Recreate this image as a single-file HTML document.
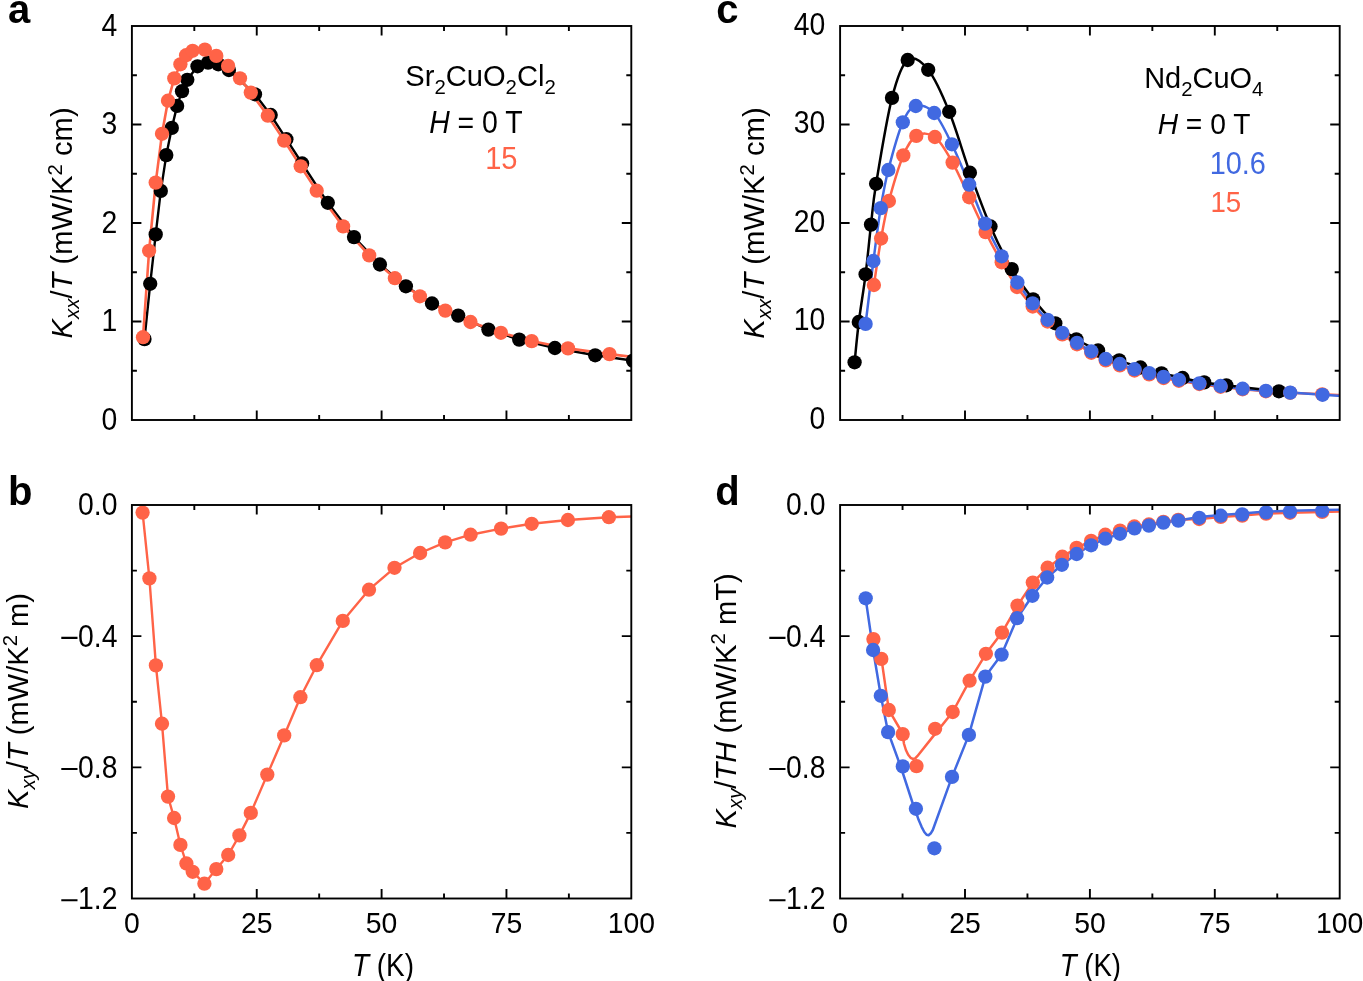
<!DOCTYPE html>
<html><head><meta charset="utf-8"><title>Thermal Hall figure</title>
<style>
html,body{margin:0;padding:0;background:#fff;width:1363px;height:981px;overflow:hidden}
svg{display:block;font-family:"Liberation Sans",sans-serif;will-change:transform}
</style></head>
<body>
<svg width="1363" height="981" viewBox="0 0 1363 981">
<rect width="1363" height="981" fill="#fff"/>
<clipPath id="clipa"><rect x="131.90" y="26.00" width="499.40" height="394.00"/></clipPath>
<clipPath id="clipb"><rect x="131.90" y="505.00" width="499.40" height="393.50"/></clipPath>
<clipPath id="clipc"><rect x="840.10" y="26.00" width="499.60" height="394.00"/></clipPath>
<clipPath id="clipd"><rect x="840.10" y="505.00" width="499.60" height="393.50"/></clipPath>
<g clip-path="url(#clipa)">
<path d="M144.50,339.10 L150.20,283.80 L155.70,234.40 L160.80,190.90 L166.30,155.10 L171.80,127.90 L177.10,105.90 L182.00,91.20 L187.30,79.80 L197.50,66.30 L208.10,62.60 L218.30,64.30 L228.90,70.00 L255.00,94.30 L270.70,115.00 L286.40,139.20 L302.10,163.50 L327.80,202.80 L354.00,237.10 L379.90,264.50 L405.90,286.30 L432.00,303.50 L458.20,315.60 L488.40,329.60 L519.20,339.60 L554.90,348.00 L595.20,355.30 L633.00,360.60" fill="none" stroke="#000000" stroke-width="2.40" stroke-linejoin="round"/>
<path d="M143.00,337.20 L149.10,250.80 L155.70,182.60 L162.00,133.80 L168.00,100.70 L174.30,78.40 L180.40,64.30 L186.10,55.20 L192.60,50.80 L204.90,49.60 L216.30,55.90 L228.10,65.90 L240.00,78.30 L250.80,92.60 L267.80,115.70 L284.20,140.60 L300.70,166.30 L316.70,190.70 L343.10,226.40 L369.20,255.40 L394.90,278.20 L419.90,296.30 L445.30,310.60 L470.50,322.00 L500.90,332.80 L531.70,341.10 L568.00,348.40 L609.50,354.10 L650.00,359.00" fill="none" stroke="#ff6347" stroke-width="2.60" stroke-linejoin="round"/>
<g fill="#000000"><circle cx="144.50" cy="339.10" r="7.15"/><circle cx="150.20" cy="283.80" r="7.15"/><circle cx="155.70" cy="234.40" r="7.15"/><circle cx="160.80" cy="190.90" r="7.15"/><circle cx="166.30" cy="155.10" r="7.15"/><circle cx="171.80" cy="127.90" r="7.15"/><circle cx="177.10" cy="105.90" r="7.15"/><circle cx="182.00" cy="91.20" r="7.15"/><circle cx="187.30" cy="79.80" r="7.15"/><circle cx="197.50" cy="66.30" r="7.15"/><circle cx="208.10" cy="62.60" r="7.15"/><circle cx="218.30" cy="64.30" r="7.15"/><circle cx="228.90" cy="70.00" r="7.15"/><circle cx="255.00" cy="94.30" r="7.15"/><circle cx="270.70" cy="115.00" r="7.15"/><circle cx="286.40" cy="139.20" r="7.15"/><circle cx="302.10" cy="163.50" r="7.15"/><circle cx="327.80" cy="202.80" r="7.15"/><circle cx="354.00" cy="237.10" r="7.15"/><circle cx="379.90" cy="264.50" r="7.15"/><circle cx="405.90" cy="286.30" r="7.15"/><circle cx="432.00" cy="303.50" r="7.15"/><circle cx="458.20" cy="315.60" r="7.15"/><circle cx="488.40" cy="329.60" r="7.15"/><circle cx="519.20" cy="339.60" r="7.15"/><circle cx="554.90" cy="348.00" r="7.15"/><circle cx="595.20" cy="355.30" r="7.15"/><circle cx="633.00" cy="360.60" r="7.15"/></g>
<g fill="#ff6347"><circle cx="143.00" cy="337.20" r="7.15"/><circle cx="149.10" cy="250.80" r="7.15"/><circle cx="155.70" cy="182.60" r="7.15"/><circle cx="162.00" cy="133.80" r="7.15"/><circle cx="168.00" cy="100.70" r="7.15"/><circle cx="174.30" cy="78.40" r="7.15"/><circle cx="180.40" cy="64.30" r="7.15"/><circle cx="186.10" cy="55.20" r="7.15"/><circle cx="192.60" cy="50.80" r="7.15"/><circle cx="204.90" cy="49.60" r="7.15"/><circle cx="216.30" cy="55.90" r="7.15"/><circle cx="228.10" cy="65.90" r="7.15"/><circle cx="240.00" cy="78.30" r="7.15"/><circle cx="250.80" cy="92.60" r="7.15"/><circle cx="267.80" cy="115.70" r="7.15"/><circle cx="284.20" cy="140.60" r="7.15"/><circle cx="300.70" cy="166.30" r="7.15"/><circle cx="316.70" cy="190.70" r="7.15"/><circle cx="343.10" cy="226.40" r="7.15"/><circle cx="369.20" cy="255.40" r="7.15"/><circle cx="394.90" cy="278.20" r="7.15"/><circle cx="419.90" cy="296.30" r="7.15"/><circle cx="445.30" cy="310.60" r="7.15"/><circle cx="470.50" cy="322.00" r="7.15"/><circle cx="500.90" cy="332.80" r="7.15"/><circle cx="531.70" cy="341.10" r="7.15"/><circle cx="568.00" cy="348.40" r="7.15"/><circle cx="609.50" cy="354.10" r="7.15"/><circle cx="650.00" cy="359.00" r="7.15"/></g>
</g>
<rect x="131.90" y="26.00" width="499.40" height="394.00" fill="none" stroke="#000" stroke-width="1.9"/>
<path d="M256.75,420.00V410.50 M256.75,26.00V35.50 M381.60,420.00V410.50 M381.60,26.00V35.50 M506.45,420.00V410.50 M506.45,26.00V35.50 M194.32,420.00V415.00 M194.32,26.00V31.00 M319.18,420.00V415.00 M319.18,26.00V31.00 M444.02,420.00V415.00 M444.02,26.00V31.00 M568.88,420.00V415.00 M568.88,26.00V31.00 M131.90,321.50H141.40 M631.30,321.50H621.80 M131.90,223.00H141.40 M631.30,223.00H621.80 M131.90,124.50H141.40 M631.30,124.50H621.80 M131.90,370.75H136.90 M631.30,370.75H626.30 M131.90,272.25H136.90 M631.30,272.25H626.30 M131.90,173.75H136.90 M631.30,173.75H626.30 M131.90,75.25H136.90 M631.30,75.25H626.30" stroke="#000" stroke-width="1.9" fill="none"/>
<g clip-path="url(#clipb)">
<path d="M142.60,512.60 L149.40,578.40 L155.90,665.40 L162.00,723.70 L168.00,796.60 L174.10,818.00 L180.40,844.90 L186.40,863.50 L192.70,871.80 L204.40,883.70 L216.30,869.10 L228.20,855.00 L239.40,835.40 L250.80,812.90 L267.30,774.60 L284.20,735.40 L300.40,697.20 L316.80,665.20 L342.80,620.90 L369.00,589.70 L394.50,567.80 L420.10,553.00 L445.20,542.40 L470.60,534.70 L501.10,528.60 L531.70,523.80 L567.90,520.00 L608.90,517.20 L650.00,516.00" fill="none" stroke="#ff6347" stroke-width="2.40" stroke-linejoin="round"/>
<g fill="#ff6347"><circle cx="142.60" cy="512.60" r="7.15"/><circle cx="149.40" cy="578.40" r="7.15"/><circle cx="155.90" cy="665.40" r="7.15"/><circle cx="162.00" cy="723.70" r="7.15"/><circle cx="168.00" cy="796.60" r="7.15"/><circle cx="174.10" cy="818.00" r="7.15"/><circle cx="180.40" cy="844.90" r="7.15"/><circle cx="186.40" cy="863.50" r="7.15"/><circle cx="192.70" cy="871.80" r="7.15"/><circle cx="204.40" cy="883.70" r="7.15"/><circle cx="216.30" cy="869.10" r="7.15"/><circle cx="228.20" cy="855.00" r="7.15"/><circle cx="239.40" cy="835.40" r="7.15"/><circle cx="250.80" cy="812.90" r="7.15"/><circle cx="267.30" cy="774.60" r="7.15"/><circle cx="284.20" cy="735.40" r="7.15"/><circle cx="300.40" cy="697.20" r="7.15"/><circle cx="316.80" cy="665.20" r="7.15"/><circle cx="342.80" cy="620.90" r="7.15"/><circle cx="369.00" cy="589.70" r="7.15"/><circle cx="394.50" cy="567.80" r="7.15"/><circle cx="420.10" cy="553.00" r="7.15"/><circle cx="445.20" cy="542.40" r="7.15"/><circle cx="470.60" cy="534.70" r="7.15"/><circle cx="501.10" cy="528.60" r="7.15"/><circle cx="531.70" cy="523.80" r="7.15"/><circle cx="567.90" cy="520.00" r="7.15"/><circle cx="608.90" cy="517.20" r="7.15"/><circle cx="650.00" cy="516.00" r="7.15"/></g>
</g>
<rect x="131.90" y="505.00" width="499.40" height="393.50" fill="none" stroke="#000" stroke-width="1.9"/>
<path d="M256.75,898.50V889.00 M256.75,505.00V514.50 M381.60,898.50V889.00 M381.60,505.00V514.50 M506.45,898.50V889.00 M506.45,505.00V514.50 M194.32,898.50V893.50 M194.32,505.00V510.00 M319.18,898.50V893.50 M319.18,505.00V510.00 M444.02,898.50V893.50 M444.02,505.00V510.00 M568.88,898.50V893.50 M568.88,505.00V510.00 M131.90,767.33H141.40 M631.30,767.33H621.80 M131.90,636.17H141.40 M631.30,636.17H621.80 M131.90,832.92H136.90 M631.30,832.92H626.30 M131.90,701.75H136.90 M631.30,701.75H626.30 M131.90,570.58H136.90 M631.30,570.58H626.30" stroke="#000" stroke-width="1.9" fill="none"/>
<g clip-path="url(#clipc)">
<path d="M873.90,285.00 C875.10,277.25 878.60,252.50 881.10,238.50 C883.60,224.50 885.20,214.85 888.90,201.00 C892.60,187.15 898.73,166.25 903.30,155.40 C907.87,144.55 911.03,138.97 916.30,135.90 C921.57,132.83 928.85,132.55 934.90,137.00 C940.95,141.45 946.88,152.55 952.60,162.60 C958.32,172.65 963.70,185.72 969.20,197.30 C974.70,208.88 980.18,221.27 985.60,232.10 C991.02,242.93 996.47,253.15 1001.70,262.30 C1006.93,271.45 1011.83,279.63 1017.00,287.00 C1022.17,294.37 1027.60,300.75 1032.70,306.50 C1037.80,312.25 1042.67,316.85 1047.60,321.50 C1052.53,326.15 1057.40,330.60 1062.30,334.40 C1067.20,338.20 1072.17,341.23 1077.00,344.30 C1081.83,347.37 1086.52,350.12 1091.30,352.80 C1096.08,355.48 1100.95,358.30 1105.70,360.40 C1110.45,362.50 1115.00,363.72 1119.80,365.40 C1124.60,367.08 1129.60,369.00 1134.50,370.50 C1139.40,372.00 1144.35,373.15 1149.20,374.40 C1154.05,375.65 1158.65,376.93 1163.60,378.00 C1168.55,379.07 1172.93,379.80 1178.90,380.80 C1184.87,381.80 1192.45,383.00 1199.40,384.00 C1206.35,385.00 1213.40,385.92 1220.60,386.80 C1227.80,387.68 1235.05,388.55 1242.60,389.30 C1250.15,390.05 1257.97,390.72 1265.90,391.30 C1273.83,391.88 1280.82,392.30 1290.20,392.80 C1299.58,393.30 1310.57,393.77 1322.20,394.30 C1333.83,394.83 1353.70,395.72 1360.00,396.00" fill="none" stroke="#ff6347" stroke-width="2.50" stroke-linejoin="round"/>
<path d="M865.60,323.90 C866.90,313.42 870.88,280.30 873.40,261.00 C875.92,241.70 878.22,223.27 880.70,208.10 C883.18,192.93 884.62,184.30 888.30,170.00 C891.98,155.70 898.22,132.97 902.80,122.30 C907.38,111.63 910.57,107.55 915.80,106.00 C921.03,104.45 928.18,106.62 934.20,113.00 C940.22,119.38 946.07,132.37 951.90,144.30 C957.73,156.23 963.67,171.38 969.20,184.60 C974.73,197.82 979.68,211.65 985.10,223.60 C990.52,235.55 996.32,246.48 1001.70,256.30 C1007.08,266.12 1012.23,274.67 1017.40,282.50 C1022.57,290.33 1027.67,297.08 1032.70,303.30 C1037.73,309.52 1042.67,314.88 1047.60,319.80 C1052.53,324.72 1057.40,328.97 1062.30,332.80 C1067.20,336.63 1072.17,339.72 1077.00,342.80 C1081.83,345.88 1086.52,348.60 1091.30,351.30 C1096.08,354.00 1100.95,356.88 1105.70,359.00 C1110.45,361.12 1115.00,362.30 1119.80,364.00 C1124.60,365.70 1129.60,367.68 1134.50,369.20 C1139.40,370.72 1144.35,371.82 1149.20,373.10 C1154.05,374.38 1158.65,375.78 1163.60,376.90 C1168.55,378.02 1172.93,378.73 1178.90,379.80 C1184.87,380.87 1192.45,382.27 1199.40,383.30 C1206.35,384.33 1213.40,385.10 1220.60,386.00 C1227.80,386.90 1235.05,387.90 1242.60,388.70 C1250.15,389.50 1257.97,390.15 1265.90,390.80 C1273.83,391.45 1280.75,391.93 1290.20,392.60 C1299.65,393.27 1310.97,394.07 1322.60,394.80 C1334.23,395.53 1353.77,396.63 1360.00,397.00" fill="none" stroke="#4169e1" stroke-width="2.50" stroke-linejoin="round"/>
<path d="M854.60,362.30 C855.30,355.58 856.97,336.67 858.80,322.00 C860.63,307.33 863.57,290.53 865.60,274.30 C867.63,258.07 869.25,239.68 871.00,224.60 C872.75,209.52 872.60,204.92 876.10,183.80 C879.60,162.68 886.73,118.53 892.00,97.90 C897.27,77.27 901.67,64.68 907.70,60.00 C913.73,55.32 921.28,61.17 928.20,69.80 C935.12,78.43 942.25,94.65 949.20,111.80 C956.15,128.95 963.02,153.58 969.90,172.70 C976.78,191.82 983.52,210.43 990.50,226.50 C997.48,242.57 1004.70,256.97 1011.80,269.10 C1018.90,281.23 1025.85,290.27 1033.10,299.30 C1040.35,308.33 1048.08,316.63 1055.30,323.30 C1062.52,329.97 1069.27,334.77 1076.40,339.30 C1083.53,343.83 1090.97,346.98 1098.10,350.50 C1105.23,354.02 1112.15,357.57 1119.20,360.40 C1126.25,363.23 1133.35,365.35 1140.40,367.50 C1147.45,369.65 1154.47,371.55 1161.50,373.30 C1168.53,375.05 1175.48,376.48 1182.60,378.00 C1189.72,379.52 1196.92,381.18 1204.20,382.40 C1211.48,383.62 1213.85,383.82 1226.30,385.30 C1238.75,386.78 1270.13,390.30 1278.90,391.30" fill="none" stroke="#000000" stroke-width="2.50" stroke-linejoin="round"/>
<g fill="#000000"><circle cx="854.60" cy="362.30" r="7.15"/><circle cx="858.80" cy="322.00" r="7.15"/><circle cx="865.60" cy="274.30" r="7.15"/><circle cx="871.00" cy="224.60" r="7.15"/><circle cx="876.10" cy="183.80" r="7.15"/><circle cx="892.00" cy="97.90" r="7.15"/><circle cx="907.70" cy="60.00" r="7.15"/><circle cx="928.20" cy="69.80" r="7.15"/><circle cx="949.20" cy="111.80" r="7.15"/><circle cx="969.90" cy="172.70" r="7.15"/><circle cx="990.50" cy="226.50" r="7.15"/><circle cx="1011.80" cy="269.10" r="7.15"/><circle cx="1033.10" cy="299.30" r="7.15"/><circle cx="1055.30" cy="323.30" r="7.15"/><circle cx="1076.40" cy="339.30" r="7.15"/><circle cx="1098.10" cy="350.50" r="7.15"/><circle cx="1119.20" cy="360.40" r="7.15"/><circle cx="1140.40" cy="367.50" r="7.15"/><circle cx="1161.50" cy="373.30" r="7.15"/><circle cx="1182.60" cy="378.00" r="7.15"/><circle cx="1204.20" cy="382.40" r="7.15"/><circle cx="1226.30" cy="385.30" r="7.15"/><circle cx="1278.90" cy="391.30" r="7.15"/></g>
<g fill="#ff6347"><circle cx="873.90" cy="285.00" r="7.15"/><circle cx="881.10" cy="238.50" r="7.15"/><circle cx="888.90" cy="201.00" r="7.15"/><circle cx="903.30" cy="155.40" r="7.15"/><circle cx="916.30" cy="135.90" r="7.15"/><circle cx="934.90" cy="137.00" r="7.15"/><circle cx="952.60" cy="162.60" r="7.15"/><circle cx="969.20" cy="197.30" r="7.15"/><circle cx="985.60" cy="232.10" r="7.15"/><circle cx="1001.70" cy="262.30" r="7.15"/><circle cx="1017.00" cy="287.00" r="7.15"/><circle cx="1032.70" cy="306.50" r="7.15"/><circle cx="1047.60" cy="321.50" r="7.15"/><circle cx="1062.30" cy="334.40" r="7.15"/><circle cx="1077.00" cy="344.30" r="7.15"/><circle cx="1091.30" cy="352.80" r="7.15"/><circle cx="1105.70" cy="360.40" r="7.15"/><circle cx="1119.80" cy="365.40" r="7.15"/><circle cx="1134.50" cy="370.50" r="7.15"/><circle cx="1149.20" cy="374.40" r="7.15"/><circle cx="1163.60" cy="378.00" r="7.15"/><circle cx="1178.90" cy="380.80" r="7.15"/><circle cx="1199.40" cy="384.00" r="7.15"/><circle cx="1220.60" cy="386.80" r="7.15"/><circle cx="1242.60" cy="389.30" r="7.15"/><circle cx="1265.90" cy="391.30" r="7.15"/><circle cx="1290.20" cy="392.80" r="7.15"/><circle cx="1322.20" cy="394.30" r="7.15"/><circle cx="1360.00" cy="396.00" r="7.15"/></g>
<g fill="#4169e1"><circle cx="865.60" cy="323.90" r="7.15"/><circle cx="873.40" cy="261.00" r="7.15"/><circle cx="880.70" cy="208.10" r="7.15"/><circle cx="888.30" cy="170.00" r="7.15"/><circle cx="902.80" cy="122.30" r="7.15"/><circle cx="915.80" cy="106.00" r="7.15"/><circle cx="934.20" cy="113.00" r="7.15"/><circle cx="951.90" cy="144.30" r="7.15"/><circle cx="969.20" cy="184.60" r="7.15"/><circle cx="985.10" cy="223.60" r="7.15"/><circle cx="1001.70" cy="256.30" r="7.15"/><circle cx="1017.40" cy="282.50" r="7.15"/><circle cx="1032.70" cy="303.30" r="7.15"/><circle cx="1047.60" cy="319.80" r="7.15"/><circle cx="1062.30" cy="332.80" r="7.15"/><circle cx="1077.00" cy="342.80" r="7.15"/><circle cx="1091.30" cy="351.30" r="7.15"/><circle cx="1105.70" cy="359.00" r="7.15"/><circle cx="1119.80" cy="364.00" r="7.15"/><circle cx="1134.50" cy="369.20" r="7.15"/><circle cx="1149.20" cy="373.10" r="7.15"/><circle cx="1163.60" cy="376.90" r="7.15"/><circle cx="1178.90" cy="379.80" r="7.15"/><circle cx="1199.40" cy="383.30" r="7.15"/><circle cx="1220.60" cy="386.00" r="7.15"/><circle cx="1242.60" cy="388.70" r="7.15"/><circle cx="1265.90" cy="390.80" r="7.15"/><circle cx="1290.20" cy="392.60" r="7.15"/><circle cx="1322.60" cy="394.80" r="7.15"/><circle cx="1360.00" cy="397.00" r="7.15"/></g>
</g>
<rect x="840.10" y="26.00" width="499.60" height="394.00" fill="none" stroke="#000" stroke-width="1.9"/>
<path d="M965.00,420.00V410.50 M965.00,26.00V35.50 M1089.90,420.00V410.50 M1089.90,26.00V35.50 M1214.80,420.00V410.50 M1214.80,26.00V35.50 M902.55,420.00V415.00 M902.55,26.00V31.00 M1027.45,420.00V415.00 M1027.45,26.00V31.00 M1152.35,420.00V415.00 M1152.35,26.00V31.00 M1277.25,420.00V415.00 M1277.25,26.00V31.00 M840.10,321.50H849.60 M1339.70,321.50H1330.20 M840.10,223.00H849.60 M1339.70,223.00H1330.20 M840.10,124.50H849.60 M1339.70,124.50H1330.20 M840.10,370.75H845.10 M1339.70,370.75H1334.70 M840.10,272.25H845.10 M1339.70,272.25H1334.70 M840.10,173.75H845.10 M1339.70,173.75H1334.70 M840.10,75.25H845.10 M1339.70,75.25H1334.70" stroke="#000" stroke-width="1.9" fill="none"/>
<g clip-path="url(#clipd)">
<path d="M873.60,638.90 L881.40,658.40 L888.80,709.90 L902.90,734.00 L903.90,743.50 L905.90,750.00 L908.20,754.80 L910.60,757.80 L912.90,758.90 L915.20,758.40 L917.30,756.20 L934.70,734.40 L952.70,712.00 L969.60,680.70 L985.90,653.80 L1002.00,632.60 L1017.50,605.60 L1032.80,582.60 L1047.60,567.70 L1062.30,556.70 L1076.60,547.90 L1091.10,540.80 L1105.30,534.70 L1120.00,530.60 L1134.30,526.50 L1148.90,524.50 L1163.40,521.80 L1178.30,519.80 L1199.20,519.00 L1220.70,516.90 L1242.20,515.60 L1266.10,513.60 L1290.00,512.80 L1322.20,511.90 L1360.00,511.20" fill="none" stroke="#ff6347" stroke-width="2.50" stroke-linejoin="round"/>
<path d="M865.60,598.20 L873.10,649.80 L880.80,695.80 L888.00,731.70 L901.20,768.00 L912.60,803.00 L915.60,811.00 L918.60,819.80 L921.60,826.80 L924.30,832.00 L926.60,834.80 L928.60,835.20 L930.60,833.60 L932.80,830.00 L952.00,776.90 L968.90,734.90 L985.30,676.60 L1001.60,654.60 L1017.10,618.20 L1032.40,595.80 L1047.20,577.50 L1061.90,564.80 L1076.60,554.00 L1091.10,545.30 L1105.30,538.70 L1120.00,533.80 L1134.50,528.40 L1148.90,525.60 L1163.40,522.60 L1178.30,520.60 L1199.20,517.00 L1220.70,514.90 L1242.20,513.60 L1266.10,511.60 L1290.00,510.80 L1322.20,509.90 L1360.00,509.60" fill="none" stroke="#4169e1" stroke-width="2.50" stroke-linejoin="round"/>
<g fill="#ff6347"><circle cx="873.40" cy="639.10" r="7.15"/><circle cx="881.30" cy="658.90" r="7.15"/><circle cx="888.80" cy="710.00" r="7.15"/><circle cx="902.70" cy="734.10" r="7.15"/><circle cx="916.50" cy="766.10" r="7.15"/><circle cx="935.10" cy="728.80" r="7.15"/><circle cx="952.70" cy="712.00" r="7.15"/><circle cx="969.60" cy="680.70" r="7.15"/><circle cx="985.90" cy="653.80" r="7.15"/><circle cx="1002.00" cy="632.60" r="7.15"/><circle cx="1017.50" cy="605.60" r="7.15"/><circle cx="1032.80" cy="582.60" r="7.15"/><circle cx="1047.60" cy="567.70" r="7.15"/><circle cx="1062.30" cy="556.70" r="7.15"/><circle cx="1076.60" cy="547.90" r="7.15"/><circle cx="1091.10" cy="540.80" r="7.15"/><circle cx="1105.30" cy="534.70" r="7.15"/><circle cx="1120.00" cy="530.60" r="7.15"/><circle cx="1134.30" cy="526.50" r="7.15"/><circle cx="1148.90" cy="524.50" r="7.15"/><circle cx="1163.40" cy="521.80" r="7.15"/><circle cx="1178.30" cy="519.80" r="7.15"/><circle cx="1199.20" cy="519.00" r="7.15"/><circle cx="1220.70" cy="516.90" r="7.15"/><circle cx="1242.20" cy="515.60" r="7.15"/><circle cx="1266.10" cy="513.60" r="7.15"/><circle cx="1290.00" cy="512.80" r="7.15"/><circle cx="1322.20" cy="511.90" r="7.15"/></g>
<g fill="#4169e1"><circle cx="865.70" cy="598.30" r="7.15"/><circle cx="873.10" cy="650.00" r="7.15"/><circle cx="880.80" cy="695.80" r="7.15"/><circle cx="888.10" cy="732.10" r="7.15"/><circle cx="902.80" cy="766.40" r="7.15"/><circle cx="915.90" cy="808.80" r="7.15"/><circle cx="934.40" cy="848.30" r="7.15"/><circle cx="952.00" cy="776.90" r="7.15"/><circle cx="968.90" cy="734.90" r="7.15"/><circle cx="985.30" cy="676.60" r="7.15"/><circle cx="1001.60" cy="654.60" r="7.15"/><circle cx="1017.10" cy="618.20" r="7.15"/><circle cx="1032.40" cy="595.80" r="7.15"/><circle cx="1047.20" cy="577.50" r="7.15"/><circle cx="1061.90" cy="564.80" r="7.15"/><circle cx="1076.60" cy="554.00" r="7.15"/><circle cx="1091.10" cy="545.30" r="7.15"/><circle cx="1105.30" cy="538.70" r="7.15"/><circle cx="1120.00" cy="533.80" r="7.15"/><circle cx="1134.50" cy="528.40" r="7.15"/><circle cx="1148.90" cy="525.60" r="7.15"/><circle cx="1163.40" cy="522.60" r="7.15"/><circle cx="1178.30" cy="520.60" r="7.15"/><circle cx="1199.20" cy="517.80" r="7.15"/><circle cx="1220.70" cy="515.70" r="7.15"/><circle cx="1242.20" cy="514.40" r="7.15"/><circle cx="1266.10" cy="512.40" r="7.15"/><circle cx="1290.00" cy="511.60" r="7.15"/><circle cx="1322.20" cy="510.70" r="7.15"/></g>
</g>
<rect x="840.10" y="505.00" width="499.60" height="393.50" fill="none" stroke="#000" stroke-width="1.9"/>
<path d="M965.00,898.50V889.00 M965.00,505.00V514.50 M1089.90,898.50V889.00 M1089.90,505.00V514.50 M1214.80,898.50V889.00 M1214.80,505.00V514.50 M902.55,898.50V893.50 M902.55,505.00V510.00 M1027.45,898.50V893.50 M1027.45,505.00V510.00 M1152.35,898.50V893.50 M1152.35,505.00V510.00 M1277.25,898.50V893.50 M1277.25,505.00V510.00 M840.10,767.33H849.60 M1339.70,767.33H1330.20 M840.10,636.17H849.60 M1339.70,636.17H1330.20 M840.10,832.92H845.10 M1339.70,832.92H1334.70 M840.10,701.75H845.10 M1339.70,701.75H1334.70 M840.10,570.58H845.10 M1339.70,570.58H1334.70" stroke="#000" stroke-width="1.9" fill="none"/>
<text transform="translate(117.30,429.90) scale(0.9450,1.0200)" text-anchor="end" fill="#000" font-size="30">0</text>
<text transform="translate(117.30,331.40) scale(0.9450,1.0200)" text-anchor="end" fill="#000" font-size="30">1</text>
<text transform="translate(117.30,232.90) scale(0.9450,1.0200)" text-anchor="end" fill="#000" font-size="30">2</text>
<text transform="translate(117.30,134.40) scale(0.9450,1.0200)" text-anchor="end" fill="#000" font-size="30">3</text>
<text transform="translate(117.30,35.90) scale(0.9450,1.0200)" text-anchor="end" fill="#000" font-size="30">4</text>
<text transform="translate(117.50,908.90) scale(0.9450,1.0200)" text-anchor="end" fill="#000" font-size="30">1.2</text>
<text transform="translate(117.50,777.73) scale(0.9450,1.0200)" text-anchor="end" fill="#000" font-size="30">0.8</text>
<text transform="translate(117.50,646.57) scale(0.9450,1.0200)" text-anchor="end" fill="#000" font-size="30">0.4</text>
<text transform="translate(117.50,515.40) scale(0.9450,1.0200)" text-anchor="end" fill="#000" font-size="30">0.0</text>
<text transform="translate(825.30,428.70) scale(0.9450,1.0200)" text-anchor="end" fill="#000" font-size="30">0</text>
<text transform="translate(825.30,330.20) scale(0.9450,1.0200)" text-anchor="end" fill="#000" font-size="30">10</text>
<text transform="translate(825.30,231.70) scale(0.9450,1.0200)" text-anchor="end" fill="#000" font-size="30">20</text>
<text transform="translate(825.30,133.20) scale(0.9450,1.0200)" text-anchor="end" fill="#000" font-size="30">30</text>
<text transform="translate(825.30,34.70) scale(0.9450,1.0200)" text-anchor="end" fill="#000" font-size="30">40</text>
<text transform="translate(825.50,908.90) scale(0.9450,1.0200)" text-anchor="end" fill="#000" font-size="30">1.2</text>
<text transform="translate(825.50,777.73) scale(0.9450,1.0200)" text-anchor="end" fill="#000" font-size="30">0.8</text>
<text transform="translate(825.50,646.57) scale(0.9450,1.0200)" text-anchor="end" fill="#000" font-size="30">0.4</text>
<text transform="translate(825.50,515.40) scale(0.9450,1.0200)" text-anchor="end" fill="#000" font-size="30">0.0</text>
<text transform="translate(131.90,933.30) scale(0.9450,1.0100)" text-anchor="middle" fill="#000" font-size="30">0</text>
<text transform="translate(256.75,933.30) scale(0.9450,1.0100)" text-anchor="middle" fill="#000" font-size="30">25</text>
<text transform="translate(381.60,933.30) scale(0.9450,1.0100)" text-anchor="middle" fill="#000" font-size="30">50</text>
<text transform="translate(506.45,933.30) scale(0.9450,1.0100)" text-anchor="middle" fill="#000" font-size="30">75</text>
<text transform="translate(631.30,933.30) scale(0.9450,1.0100)" text-anchor="middle" fill="#000" font-size="30">100</text>
<text transform="translate(840.10,933.30) scale(0.9450,1.0100)" text-anchor="middle" fill="#000" font-size="30">0</text>
<text transform="translate(965.00,933.30) scale(0.9450,1.0100)" text-anchor="middle" fill="#000" font-size="30">25</text>
<text transform="translate(1089.90,933.30) scale(0.9450,1.0100)" text-anchor="middle" fill="#000" font-size="30">50</text>
<text transform="translate(1214.80,933.30) scale(0.9450,1.0100)" text-anchor="middle" fill="#000" font-size="30">75</text>
<text transform="translate(1339.70,933.30) scale(0.9450,1.0100)" text-anchor="middle" fill="#000" font-size="30">100</text>
<text transform="translate(383.00,975.50) scale(0.9318,1.0400)" text-anchor="middle" fill="#000" font-size="30"><tspan font-style="italic">T</tspan> (K)</text>
<text transform="translate(1090.35,975.50) scale(0.9207,1.0400)" text-anchor="middle" fill="#000" font-size="30"><tspan font-style="italic">T</tspan> (K)</text>
<text transform="translate(72.30,222.90) rotate(-90) scale(0.9727,0.9700)" text-anchor="middle" fill="#000" font-size="30"><tspan font-style="italic">K</tspan><tspan font-style="italic" font-size="21" dy="7">xx</tspan><tspan dy="-7">/</tspan><tspan font-style="italic">T</tspan> (mW/K<tspan font-size="21" dy="-11">2</tspan><tspan dy="11"> cm)</tspan></text>
<text transform="translate(28.00,700.95) rotate(-90) scale(0.9705,0.9700)" text-anchor="middle" fill="#000" font-size="30"><tspan font-style="italic">K</tspan><tspan font-style="italic" font-size="21" dy="7">xy</tspan><tspan dy="-7">/</tspan><tspan font-style="italic">T</tspan> (mW/K<tspan font-size="21" dy="-11">2</tspan><tspan dy="11"> m)</tspan></text>
<text transform="translate(764.20,223.00) rotate(-90) scale(0.9736,0.9700)" text-anchor="middle" fill="#000" font-size="30"><tspan font-style="italic">K</tspan><tspan font-style="italic" font-size="21" dy="7">xx</tspan><tspan dy="-7">/</tspan><tspan font-style="italic">T</tspan> (mW/K<tspan font-size="21" dy="-11">2</tspan><tspan dy="11"> cm)</tspan></text>
<text transform="translate(735.60,700.85) rotate(-90) scale(0.9727,0.9700)" text-anchor="middle" fill="#000" font-size="30"><tspan font-style="italic">K</tspan><tspan font-style="italic" font-size="21" dy="7">xy</tspan><tspan dy="-7">/</tspan><tspan font-style="italic">TH</tspan> (mW/K<tspan font-size="21" dy="-11">2</tspan><tspan dy="11"> mT)</tspan></text>
<text transform="translate(405.30,86.30) scale(0.9705,0.9865)" text-anchor="start" fill="#000" font-size="30">Sr<tspan font-size="21" dy="8">2</tspan><tspan dy="-8">CuO</tspan><tspan font-size="21" dy="8">2</tspan><tspan dy="-8">Cl</tspan><tspan font-size="21" dy="8">2</tspan></text>
<text transform="translate(429.15,133.00) scale(0.9488,1.0237)" text-anchor="start" fill="#000" font-size="30"><tspan font-style="italic">H</tspan> = 0 T</text>
<text transform="translate(485.15,169.35) scale(0.9700,1.0182)" text-anchor="start" fill="#ff6347" font-size="30">15</text>
<text transform="translate(1144.15,87.85) scale(0.9658,0.9900)" text-anchor="start" fill="#000" font-size="30">Nd<tspan font-size="21" dy="8">2</tspan><tspan dy="-8">CuO</tspan><tspan font-size="21" dy="8">4</tspan></text>
<text transform="translate(1157.65,133.70) scale(0.9406,0.9741)" text-anchor="start" fill="#000" font-size="30"><tspan font-style="italic">H</tspan> = 0 T</text>
<text transform="translate(1209.70,173.75) scale(0.9637,1.0182)" text-anchor="start" fill="#4169e1" font-size="30">10.6</text>
<text transform="translate(1210.50,212.45) scale(0.9219,0.9804)" text-anchor="start" fill="#ff6347" font-size="30">15</text>
<path d="M61.30,900.20H77.50 M61.30,769.03H77.50 M61.30,637.87H77.50 M769.30,900.20H785.50 M769.30,769.03H785.50 M769.30,637.87H785.50" stroke="#000" stroke-width="2.1" fill="none"/>
<text x="8" y="23.3" font-size="40" font-weight="bold">a</text>
<text x="8" y="505.3" font-size="40" font-weight="bold">b</text>
<text x="716.2" y="23.3" font-size="40" font-weight="bold">c</text>
<text x="715.2" y="505.3" font-size="40" font-weight="bold">d</text>
</svg>
</body></html>
